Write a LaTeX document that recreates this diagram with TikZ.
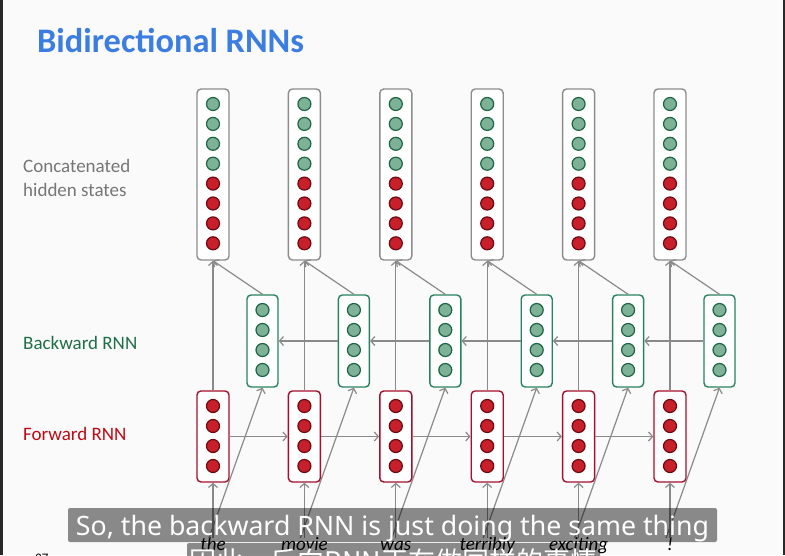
\documentclass[tikz,border=0pt]{standalone}
\usepackage{fontspec}
\setmainfont{Carlito}
\newfontfamily\subfont{Noto Sans}
\newfontfamily\cjkfont{Noto Sans CJK SC}
\usetikzlibrary{arrows.meta}
\definecolor{titleblue}{RGB}{59,125,225}
\definecolor{labelgray}{RGB}{118,118,118}
\definecolor{bgreen}{RGB}{30,110,72}
\definecolor{fred}{RGB}{190,10,20}
\definecolor{gfill}{RGB}{126,178,150}
\definecolor{gdraw}{RGB}{28,100,68}
\definecolor{rfill}{RGB}{200,32,42}
\definecolor{rdraw}{RGB}{110,8,18}
\definecolor{boxgray}{RGB}{140,140,140}
\definecolor{gbox}{RGB}{40,130,95}
\definecolor{rbox}{RGB}{165,15,45}
\definecolor{arrgray}{RGB}{138,138,138}
\definecolor{edgedark}{RGB}{40,40,40}
\begin{document}
\begin{tikzpicture}[x=1pt,y=-1pt,
  topbox/.style={draw=boxgray, line width=1.4pt, rounded corners=4pt, fill=white, minimum width=32pt, minimum height=171pt, inner sep=0pt},
  bwbox/.style={draw=gbox, line width=1.4pt, rounded corners=4pt, fill=white, minimum width=31pt, minimum height=92pt, inner sep=0pt},
  fwbox/.style={draw=rbox, line width=1.4pt, rounded corners=4pt, fill=white, minimum width=32pt, minimum height=91pt, inner sep=0pt},
  gdot/.style={circle, fill=gfill, draw=gdraw, line width=1.2pt, minimum size=13pt, inner sep=0pt},
  rdot/.style={circle, fill=rfill, draw=rdraw, line width=1.2pt, minimum size=13pt, inner sep=0pt},
  conn/.style={draw=arrgray, line width=1.2pt, -{Straight Barb[length=4pt,width=9pt]}},
  word/.style={font=\fontsize{19}{19}\selectfont\itshape, inner sep=0pt, anchor=base},
  sidelabel/.style={font=\fontsize{19}{23.5}\selectfont, inner sep=0pt, anchor=base west},
  subbox/.style={fill=black, fill opacity=0.45, rounded corners=2pt, inner sep=0pt}
]
\useasboundingbox (0,0) rectangle (785,555);
\fill[white!98!black] (0,0) rectangle (785,555);
\fill[edgedark] (0,0) rectangle (2.5,555);
\fill[edgedark] (782.5,0) rectangle (785,555);

\node[inner sep=0pt, anchor=base west, text=titleblue, font=\fontsize{34.4}{36}\selectfont\bfseries] (title) at (37,52) {Bidirectional RNNs};

\node[sidelabel, text=labelgray] (lconcat1) at (23,172.5) {Concatenated};
\node[sidelabel, text=labelgray] (lconcat2) at (23,196) {hidden states};
\node[sidelabel, text=bgreen] (lback) at (23,349.5) {Backward RNN};
\node[sidelabel, text=fred] (lfwd) at (23,440.5) {Forward RNN};

\foreach \i/\w in {0/the,1/movie,2/was,3/terribly,4/exciting,5/!} {
  \pgfmathsetmacro\cx{213+91.4*\i}
  \node[topbox] (t\i) at (\cx,174.5) {};
  \foreach \k in {0,...,3} { \node[gdot] (t\i g\k) at (\cx,104+19.9*\k) {}; }
  \foreach \k in {4,...,7} { \node[rdot] (t\i r\k) at (\cx,104+19.9*\k) {}; }
  \node[bwbox] (b\i) at (\cx+49.5,341) {};
  \foreach \k in {0,...,3} { \node[gdot] (b\i g\k) at (\cx+49.5,310+20*\k) {}; }
  \node[fwbox] (f\i) at (\cx,436.5) {};
  \foreach \k in {0,...,3} { \node[rdot] (f\i r\k) at (\cx,406+20*\k) {}; }
  \node[word] (w\i) at (\cx,550) {\w};
  \coordinate (iv\i) at (\cx,538);
  \coordinate (id\i) at (\cx-4,538);
}

\foreach \i in {0,...,5} {
  \draw[conn] (f\i.north) -- (t\i.south);
  \draw[conn] (b\i.north) -- (t\i.south);
  \draw[conn] (iv\i) -- (f\i.south);
  \draw[conn] (id\i) -- (b\i.south);
}
\foreach \i/\j in {0/1,1/2,2/3,3/4,4/5} {
  \draw[conn] (f\i.east) -- (f\j.west);
  \draw[conn] (b\j.west) -- (b\i.east);
}

\node[inner sep=0pt, anchor=base west, font=\fontsize{13}{13}\selectfont] (pagenum) at (35,562) {37};

\node[subbox, minimum width=649pt, minimum height=34pt] (sub1) at (392.5,525) {};
\node[inner sep=0pt, anchor=base, text=white, font=\subfont\fontsize{26.7}{27}\selectfont] (sub1t) at (392.5,535) {So, the backward RNN is just doing the same thing};
\node[subbox, minimum width=413pt, minimum height=40pt] (sub2) at (393.5,563) {};
\node[inner sep=0pt, anchor=base, text=white, font=\cjkfont\fontsize{27}{27}\selectfont] (sub2t) at (393.5,571) {因此，反向RNN正在做同样的事情};
\end{tikzpicture}
\end{document}
